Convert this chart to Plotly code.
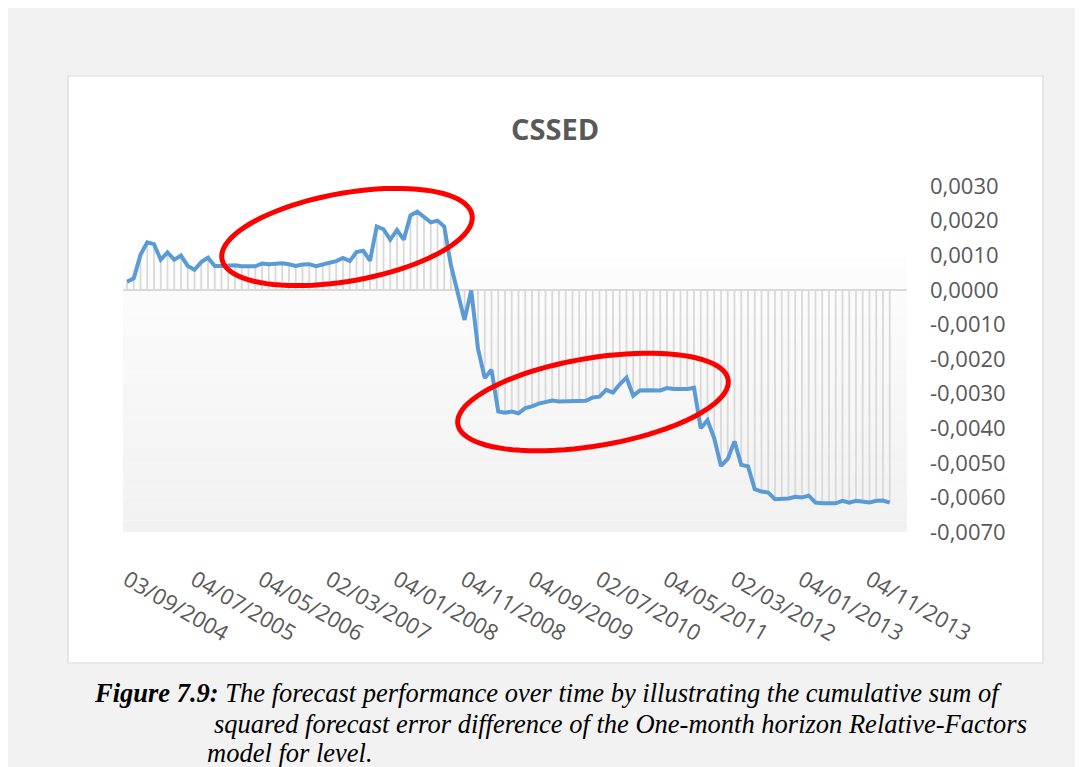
import numpy as np
import plotly.graph_objects as go

# ---------------- data ----------------
x_tick_labels = ["03/09/2004", "04/07/2005", "04/05/2006", "02/03/2007", "04/01/2008",
                 "04/11/2008", "04/09/2009", "02/07/2010", "04/05/2011", "02/03/2012",
                 "04/01/2013", "04/11/2013"]
x_tick_index = [0, 10, 20, 30, 40, 50, 60, 70, 80, 90, 100, 110]

cssed = [
    0.00023, 0.00033, 0.00101, 0.00137, 0.00132, 0.00087, 0.00108, 0.00087, 0.00099, 0.00069,
    0.00058, 0.00080, 0.00093, 0.00069, 0.00069, 0.00071, 0.00071, 0.00068, 0.00068, 0.00068,
    0.00076, 0.00074, 0.00075, 0.00077, 0.00074, 0.00069, 0.00073, 0.00074, 0.00068, 0.00072,
    0.00078, 0.00083, 0.00092, 0.00083, 0.00109, 0.00113, 0.00084, 0.00183, 0.00175, 0.00145,
    0.00173, 0.00145, 0.00215, 0.00226, 0.00212, 0.00195, 0.00200, 0.00183, 0.00070, -0.00010,
    -0.00087, -0.00002, -0.00170, -0.00255, -0.00231, -0.00352, -0.00355, -0.00352, -0.00357, -0.00342,
    -0.00337, -0.00329, -0.00323, -0.00320, -0.00323, -0.00322, -0.00321, -0.00321, -0.00321, -0.00311,
    -0.00309, -0.00289, -0.00297, -0.00273, -0.00254, -0.00306, -0.00291, -0.00290, -0.00290, -0.00291,
    -0.00284, -0.00287, -0.00287, -0.00287, -0.00283, -0.00400, -0.00377, -0.00429, -0.00509, -0.00489,
    -0.00438, -0.00506, -0.00510, -0.00576, -0.00583, -0.00586, -0.00605, -0.00604, -0.00603, -0.00598,
    -0.00600, -0.00595, -0.00615, -0.00617, -0.00617, -0.00617, -0.00610, -0.00615, -0.00610, -0.00613,
    -0.00615, -0.00610, -0.00609, -0.00615,
]
month_index = list(range(len(cssed)))

y_tick_values = [0.003, 0.002, 0.001, 0.0, -0.001, -0.002, -0.003, -0.004, -0.005, -0.006, -0.007]
y_tick_text = ["0,0030", "0,0020", "0,0010", "0,0000", "-0,0010", "-0,0020", "-0,0030",
               "-0,0040", "-0,0050", "-0,0060", "-0,0070"]

chart_title = "CSSED"
caption_lines = [
    "<b><i>Figure 7.9:</i></b><i> The forecast performance over time by illustrating the cumulative sum of</i>",
    "<i>squared forecast error difference of the One-month horizon Relative-Factors</i>",
    "<i>model for level.</i>",
]

# ---------------- layout geometry (page pixels) ----------------
OFF = 8  # page body margin
W, H = 1083 - OFF, 767 - OFF
L, R, T, B = 123, 907, 186, 532  # plot area edges (page pixels)


def px(xp):
    return (xp - L) / (R - L)


def py(yp):
    return (B - yp) / (B - T)


fig = go.Figure()

# drop lines from each point to zero
dx, dy = [], []
for i, v in zip(month_index, cssed):
    dx += [i, i, None]
    dy += [0, v, None]
fig.add_trace(go.Scatter(x=dx, y=dy, mode="lines",
                         line=dict(color="#d9d9d9", width=1.8),
                         hoverinfo="skip", showlegend=False))

fig.add_trace(go.Scatter(x=month_index, y=cssed, mode="lines",
                         line=dict(color="#5b9bd5", width=4),
                         showlegend=False))

shapes = []
# white chart box
shapes.append(dict(type="rect", xref="paper", yref="paper",
                   x0=px(68), x1=px(1043), y0=py(663), y1=py(76),
                   fillcolor="white", line=dict(color="#d9d9d9", width=1.2),
                   layer="below"))
# gradient band in plot area
band_top, band_bot = 258, 532
n = 24
for k in range(n):
    y0p = band_top + (band_bot - band_top) * k / n
    y1p = band_top + (band_bot - band_top) * (k + 1) / n
    c = int(round(253 - (253 - 241) * (k + 0.5) / n))
    shapes.append(dict(type="rect", xref="paper", yref="paper",
                       x0=0, x1=1, y0=py(y1p), y1=py(y0p),
                       fillcolor=f"rgb({c},{c},{c})", line=dict(width=0),
                       layer="below"))


def ellipse_path(cx, cy, a, b, ang_deg, npts=90):
    t = np.linspace(0, 2 * np.pi, npts)
    ang = np.deg2rad(ang_deg)
    xs = cx + a * np.cos(t) * np.cos(ang) - b * np.sin(t) * np.sin(ang)
    ys = cy + a * np.cos(t) * np.sin(ang) + b * np.sin(t) * np.cos(ang)
    pts = [f"{px(x):.5f},{py(y):.5f}" for x, y in zip(xs, ys)]
    return "M" + " L".join(pts) + " Z"


shapes.append(dict(type="path", xref="paper", yref="paper",
                   path=ellipse_path(347, 237, 127, 44, -10),
                   line=dict(color="#ff0000", width=5), layer="above"))
shapes.append(dict(type="path", xref="paper", yref="paper",
                   path=ellipse_path(593, 402, 137, 44, -9.4),
                   line=dict(color="#ff0000", width=5), layer="above"))

annotations = [
    dict(text=f"<b>{chart_title}</b>", xref="paper", yref="paper",
         x=px(555), y=py(128), xanchor="center", yanchor="middle", showarrow=False,
         font=dict(family="Open Sans", size=29, color="#595959")),
]
cap_pos = [(92, 693), (212, 724), (205, 753)]
for txt, (xp_, yp_) in zip(caption_lines, cap_pos):
    annotations.append(dict(text=txt, xref="paper", yref="paper",
                            x=px(xp_), y=py(yp_), xanchor="left", yanchor="middle",
                            showarrow=False,
                            font=dict(family="Liberation Serif", size=26.5, color="black")))

fig.update_layout(
    width=W, height=H, autosize=False,
    margin=dict(l=L - OFF, r=1083 - R, t=T - OFF, b=767 - B, pad=0),
    paper_bgcolor="#f2f2f2", plot_bgcolor="white",
    shapes=shapes, annotations=annotations,
    font=dict(family="Open Sans", color="#595959"),
)
fig.update_xaxes(range=[-0.593, 115.56], showgrid=False, zeroline=False, showline=False,
                 tickmode="array", tickvals=x_tick_index, ticktext=x_tick_labels,
                 tickangle=30, ticks="", tickfont=dict(size=22, color="#595959"),
                 ticklabelstandoff=30)
fig.update_yaxes(range=[-0.007, 0.003], side="right", showgrid=False,
                 zeroline=True, zerolinecolor="#d9d9d9", zerolinewidth=1.5,
                 showline=False, tickmode="array", tickvals=y_tick_values,
                 ticktext=y_tick_text, ticks="", tickfont=dict(size=22, color="#595959"),
                 ticklabelstandoff=22)

fig.write_html("out.html")
